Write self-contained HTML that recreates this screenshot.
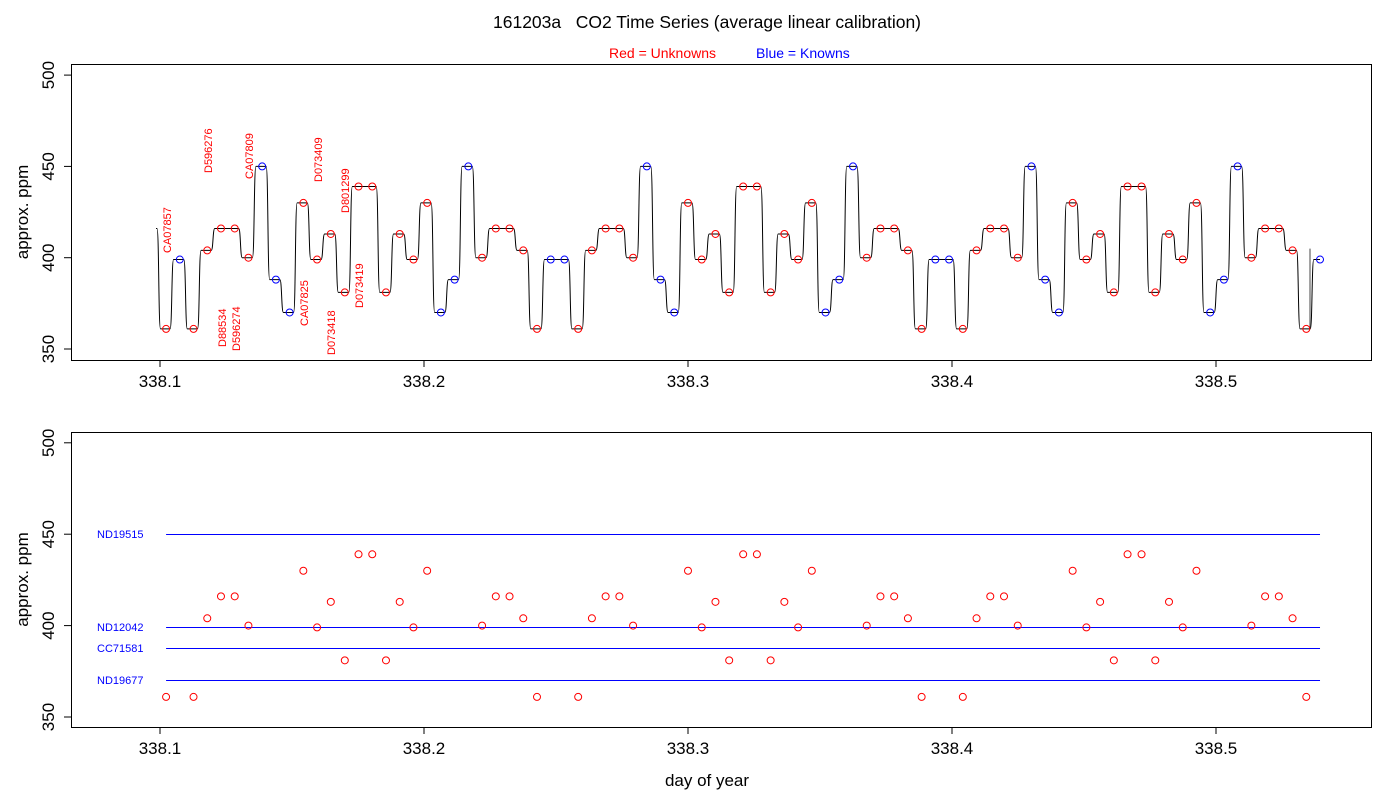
<!DOCTYPE html>
<html><head><meta charset="utf-8"><style>
html,body{margin:0;padding:0;background:#fff;}
svg{display:block;font-family:"Liberation Sans",sans-serif;}
</style></head><body>
<svg id="chart" width="1400" height="800" viewBox="0 0 1400 800">
<g id="g"></g>
</svg>
<script>
const days = [338.1023,338.1075,338.1127,338.1179,338.1231,338.1283,338.1335,338.1387,338.1439,338.1491,
338.1543,338.1595,338.1647,338.1700,338.1752,338.1804,338.1856,338.1908,338.1960,338.2012,
338.2064,338.2116,338.2168,338.2220,338.2272,338.2324,338.2376,338.2428,338.2480,338.2532,
338.2584,338.2636,338.2688,338.2740,338.2792,338.2844,338.2896,338.2948,338.3000,338.3052,
338.3104,338.3156,338.3209,338.3261,338.3313,338.3365,338.3417,338.3469,338.3521,338.3573,
338.3625,338.3677,338.3729,338.3781,338.3833,338.3885,338.3937,338.3989,338.4041,338.4093,
338.4145,338.4197,338.4249,338.4301,338.4353,338.4405,338.4457,338.4509,338.4561,338.4613,
338.4665,338.4718,338.4770,338.4822,338.4874,338.4926,338.4978,338.5030,338.5082,338.5134,
338.5186,338.5238,338.5290,338.5342,338.5394];
const ppm = [361,399,361,404,416,416,400,450,388,370,
430,399,413,381,439,439,381,413,399,430,
370,388,450,400,416,416,404,361,399,399,
361,404,416,416,400,450,388,370,430,399,
413,381,439,439,381,413,399,430,370,388,
450,400,416,416,404,361,399,399,361,404,
416,416,400,450,388,370,430,399,413,381,
439,439,381,413,399,430,370,388,450,400,
416,416,404,361,399];
const kinds = ("UKUUUUUKKK"+"UUUUUUUUUU"+"KKKUUUUUKK"+"UUUUUKKKUU"+"UUUUUUUUKK"+"KUUUUUKKUU"+"UUUKKKUUUU"+"UUUUUUKKKU"+"UUUUK").split('');
const xTicks = [338.1,338.2,338.3,338.4,338.5];
const yTicks = [350,400,450,500];
const knownNames = ["ND19515","ND12042","CC71581","ND19677"];
const knownValues = [450,399,388,370];
const sampleLabels = ["CA07857","D596276","CA07809","D073409","D801299","D88534","D596274","CA07825","D073418","D073419"];

const NS="http://www.w3.org/2000/svg";
const g=document.getElementById('g');
function el(t,a,txt){const e=document.createElementNS(NS,t);for(const k in a)e.setAttribute(k,a[k]);if(txt!==undefined)e.textContent=txt;g.appendChild(e);return e;}
const X=d=>160+(d-338.1)*2640;
const Yt=v=>349-(v-350)*1.826;
const Yb=v=>717-(v-350)*1.828;

let t=el('text',{x:707,y:28,'font-size':17.5,'text-anchor':'middle',fill:'#000',style:'white-space:pre'},'161203a   CO2 Time Series (average linear calibration)');


t=el('text',{x:609,y:58,'font-size':14,fill:'#ff0000'},'Red = Unknowns');


t=el('text',{x:756,y:58,'font-size':14,fill:'#0000ff'},'Blue = Knowns');



function panel(top,bot,Y,name){
  let r=el('rect',{x:71.5,y:top+0.5,width:1300,height:bot-top,fill:'none',stroke:'#000','stroke-width':1});
  
  
  xTicks.forEach(v=>{
    let l=el('line',{x1:X(v),x2:X(v),y1:bot,y2:bot+7,stroke:'#000'});
    
    
    let tx=el('text',{x:X(v),y:bot+27,'font-size':17,'text-anchor':'middle'},v.toFixed(1));
    
    
  });
  yTicks.forEach(v=>{
    let l=el('line',{x1:64,x2:71,y1:Y(v),y2:Y(v),stroke:'#000'});
    
    
    let tx=el('text',{x:0,y:0,'font-size':17,'text-anchor':'middle',transform:`translate(54,${Y(v)}) rotate(-90)`},String(v));
    
    
  });
  let yt=el('text',{x:0,y:0,'font-size':17,'text-anchor':'middle',transform:`translate(28,${(top+bot)/2}) rotate(-90)`},'approx. ppm');
  
  
}
panel(64,360,Yt,'top-panel');
panel(432,727,Yb,'bottom-panel');

let d=`M156,${Yt(416)} L157,${Yt(416)} C159,${Yt(416)} 158.5,${Yt(ppm[0])} 160.5,${Yt(ppm[0])}`;
for(let i=0;i<ppm.length-1;i++){
  const x=X(days[i]),y0=Yt(ppm[i]),y1=Yt(ppm[i+1]);
  d+=` L${x+4},${y0} C${x+6},${y0} ${x+5.5},${y1} ${x+7.5},${y1}`;
}
d+=` L${X(days[ppm.length-1])},${Yt(ppm[ppm.length-1])}`;
let p=el('path',{d:d,fill:'none',stroke:'#000','stroke-width':1});


let sp=el('line',{x1:1310,x2:1310,y1:Yt(361),y2:Yt(405),stroke:'#444'});



for(let i=0;i<ppm.length;i++){
  const c=el('circle',{cx:X(days[i]),cy:Yt(ppm[i]),r:3.5,fill:'none',stroke:kinds[i]==='K'?'#0000ff':'#ff0000','stroke-width':1});
  
  
}
const labPos=[[167,253],[208,173],[249,179],[318,182],[345,213],[222,347],[236,351],[304,326],[331,355],[359,308]];
sampleLabels.forEach((s,i)=>{
  const [lx,ly]=labPos[i];
  const tx=el('text',{x:0,y:0,'font-size':11,fill:'#ff0000',transform:`translate(${lx+4},${ly}) rotate(-90)`},s);
  
  
});

knownNames.forEach((n,i)=>{
  const y=Math.round(Yb(knownValues[i]));
  const l=el('rect',{x:X(days[0]),y:y,width:X(days[days.length-1])-X(days[0]),height:1,fill:'#0000ff'});
  
  
  const tx=el('text',{x:97,y:y+4,'font-size':11,fill:'#0000ff'},n);
  
  
});
for(let i=0;i<ppm.length;i++){
  if(kinds[i]!=='U')continue;
  const c=el('circle',{cx:X(days[i]),cy:Yb(ppm[i]),r:3.5,fill:'none',stroke:'#ff0000','stroke-width':1});
  
  
}
let xt=el('text',{x:707,y:786,'font-size':17,'text-anchor':'middle'},'day of year');


</script>
</body></html>
